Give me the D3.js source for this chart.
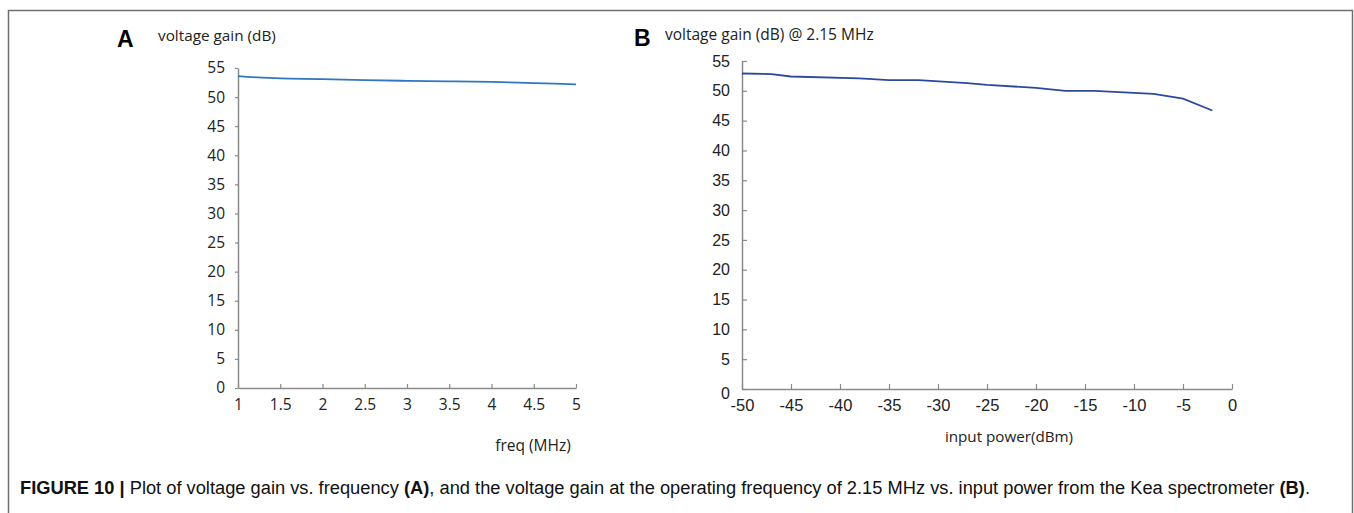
<!DOCTYPE html>
<html lang="en">
<head>
  <meta charset="UTF-8">
  <title>Figure 10</title>
  <style>
    body { margin: 0; background: #fff; }
  </style>
</head>
<body>
  <script src="https://cdn.jsdelivr.net/npm/d3@7"></script>
  <script>
    // panel A: gain vs frequency
    var freqA = [1, 1.5, 2, 2.5, 3, 3.5, 4, 4.5, 5];
    var gainA = [53.6, 53.2, 53.1, 52.9, 52.8, 52.7, 52.6, 52.4, 52.2];
    var xTicksA = [1, 1.5, 2, 2.5, 3, 3.5, 4, 4.5, 5];

    // panel B: gain @ 2.15 MHz vs input power
    var powerB = [-50, -47, -45, -38, -35, -32, -27, -25, -20, -17, -14, -8, -5, -2];
    var gainB = [52.9, 52.8, 52.4, 52.1, 51.8, 51.8, 51.3, 51.0, 50.5, 50.0, 50.0, 49.5, 48.7, 46.7];
    var xTicksB = [-50, -45, -40, -35, -30, -25, -20, -15, -10, -5, 0];

    var yTicks = [0, 5, 10, 15, 20, 25, 30, 35, 40, 45, 50, 55];

    var width = 1354, height = 513;
    var svg = d3.select("body").append("svg")
      .attr("width", width)
      .attr("height", height);

    // frame
    svg.append("path")
      .attr("d", "M8.5,530 L8.5,10.5 L1352.5,10.5 L1352.5,530")
      .attr("fill", "none")
      .attr("stroke", "#6f6f6f")
      .attr("stroke-width", 1.5);

    var axisColor = "#8a8a8a";
    var fontA = "'Open Sans', Lato, sans-serif";
    var fontB = "'Liberation Sans', Arial, sans-serif";
    var plain = function (d) { return String(d); };

    // ---- panel A ----
    var xA = d3.scaleLinear().domain([1, 5]).range([238, 576]);
    var yA = d3.scaleLinear().domain([0, 55]).range([388, 68]);

    var gA = svg.append("g");
    gA.append("g")
      .attr("transform", "translate(0," + yA(0) + ")")
      .call(d3.axisBottom(xA).tickValues(xTicksA).tickFormat(plain).tickSizeInner(-4).tickSizeOuter(0).tickPadding(11))
      .call(styleAxis, fontA, "15.5px");
    gA.append("g")
      .attr("transform", "translate(" + xA(1) + ",0)")
      .call(d3.axisLeft(yA).tickValues(yTicks).tickSizeInner(3).tickSizeOuter(0).tickPadding(10))
      .call(styleAxis, fontA, "15.5px");

    gA.append("path")
      .datum(freqA.map(function (d, i) { return [d, gainA[i]]; }))
      .attr("fill", "none")
      .attr("stroke", "#2f77c0")
      .attr("stroke-width", 1.8)
      .attr("d", d3.line().x(function (d) { return xA(d[0]); }).y(function (d) { return yA(d[1]); }).curve(d3.curveMonotoneX));

    svg.append("text").attr("x", 117).attr("y", 47)
      .style("font-family", "'Liberation Sans', Arial, sans-serif").style("font-weight", "bold").style("font-size", "23px")
      .text("A");
    svg.append("text").attr("x", 158).attr("y", 41)
      .style("font-family", fontA).style("font-size", "15.3px").attr("fill", "#222")
      .text("voltage gain (dB)");
    svg.append("text").attr("x", 533).attr("y", 451).attr("text-anchor", "middle")
      .style("font-family", fontA).style("font-size", "15.5px").attr("fill", "#222")
      .text("freq (MHz)");

    // ---- panel B ----
    var xB = d3.scaleLinear().domain([-50, 0]).range([742, 1232]);
    var yB = d3.scaleLinear().domain([0, 55]).range([389, 61]);

    var gB = svg.append("g");
    gB.append("g")
      .attr("transform", "translate(0," + yB(0) + ")")
      .call(d3.axisBottom(xB).tickValues(xTicksB).tickFormat(plain).tickSizeInner(-5).tickSizeOuter(0).tickPadding(10))
      .call(styleAxis, fontB, "16.5px");
    var yAxisB = gB.append("g")
      .attr("transform", "translate(" + xB(-50) + ",0)")
      .call(d3.axisLeft(yB).tickValues(yTicks).tickFormat(plain).tickSizeInner(-5).tickSizeOuter(0).tickPadding(12))
      .call(styleAxis, fontB, "16px");
    yAxisB.selectAll(".tick text").filter(function (d) { return d === 0; }).attr("dy", "0.6em");

    gB.append("path")
      .datum(powerB.map(function (d, i) { return [d, gainB[i]]; }))
      .attr("fill", "none")
      .attr("stroke", "#2b4a9c")
      .attr("stroke-width", 1.8)
      .attr("d", d3.line().x(function (d) { return xB(d[0]); }).y(function (d) { return yB(d[1]); }));

    svg.append("text").attr("x", 634).attr("y", 46)
      .style("font-family", "'Liberation Sans', Arial, sans-serif").style("font-weight", "bold").style("font-size", "23px")
      .text("B");
    svg.append("text").attr("x", 665).attr("y", 40)
      .style("font-family", fontA).style("font-size", "15.5px").attr("fill", "#222")
      .text("voltage gain (dB) @ 2.15 MHz");
    svg.append("text").attr("x", 1009).attr("y", 442).attr("text-anchor", "middle")
      .style("font-family", fontA).style("font-size", "15.2px").attr("fill", "#222")
      .text("input power(dBm)");

    // caption
    var cap = svg.append("text").attr("x", 20).attr("y", 494)
      .attr("textLength", 1290).attr("lengthAdjust", "spacingAndGlyphs")
      .style("font-family", "'Liberation Sans', Arial, sans-serif")
      .style("font-size", "18px").attr("fill", "#111");
    cap.append("tspan").style("font-weight", "bold").text("FIGURE 10 | ");
    cap.append("tspan").text("Plot of voltage gain vs. frequency ");
    cap.append("tspan").style("font-weight", "bold").text("(A)");
    cap.append("tspan").text(", and the voltage gain at the operating frequency of 2.15 MHz vs. input power from the Kea spectrometer ");
    cap.append("tspan").style("font-weight", "bold").text("(B)");
    cap.append("tspan").text(".");

    function styleAxis(g, font, size) {
      g.select(".domain").attr("stroke", axisColor).attr("stroke-width", 1.5);
      g.selectAll(".tick line").attr("stroke", axisColor).attr("stroke-width", 1.2);
      g.selectAll(".tick text")
        .attr("fill", "#222")
        .style("font-family", font)
        .style("font-size", size);
    }
  </script>
</body>
</html>
